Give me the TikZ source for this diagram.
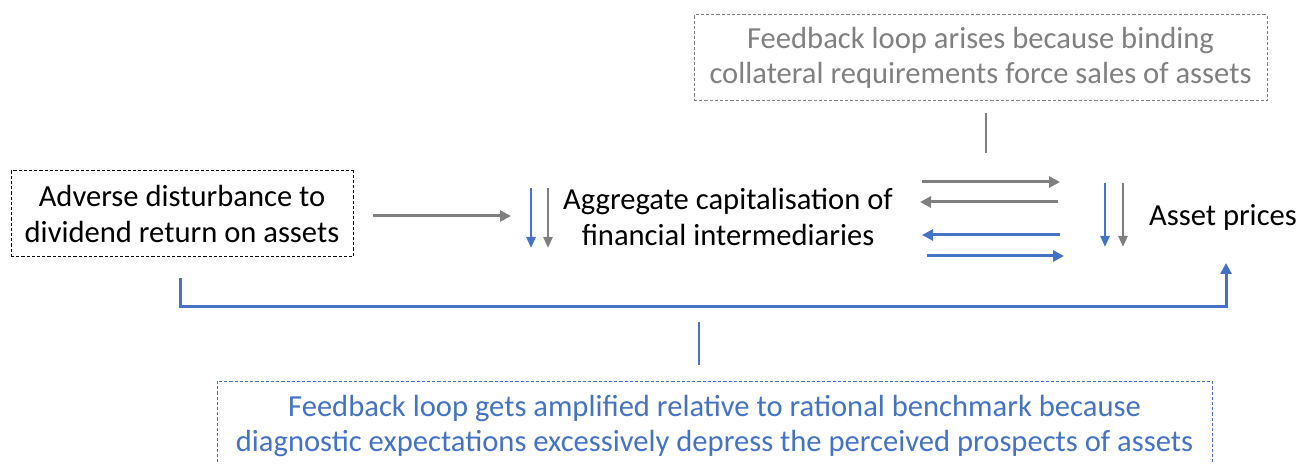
\documentclass[tikz,border=0pt]{standalone}
\usepackage{fontspec}
\setmainfont{Carlito}
\usetikzlibrary{arrows.meta}
\definecolor{cgray}{HTML}{7F7F7F}
\definecolor{cblue}{HTML}{4472C4}
\definecolor{tgray}{HTML}{808080}
\begin{document}
\begin{tikzpicture}[x=0.5pt,y=-0.5pt,
  lbl/.style={align=center,font=\fontsize{15.3}{17.6}\selectfont,inner sep=0pt},
  dbox/.style={draw,dash pattern=on 1.6pt off 1pt,line width=0.5pt},
  garr/.style={draw=cgray,line width=1.5pt,-{Triangle[length=5.5pt,width=5.5pt]}},
  barr/.style={draw=cblue,line width=1.5pt,-{Triangle[length=5.5pt,width=5.5pt]}},
  sarr/.style={line width=1.2pt,-{Triangle[length=5.5pt,width=4.5pt]}}]
\useasboundingbox (0,0) rectangle (1299,464);
\clip (0,0) rectangle (1299,464);
% boxes
\node[dbox,draw=black,minimum width=171pt,minimum height=43pt] (adv) at (182,214) {};
\node[lbl] (advt) at (182,214) {Adverse disturbance to\\dividend return on assets};
\node[dbox,draw=cgray,minimum width=286.5pt,minimum height=43pt] (top) at (980.5,58) {};
\node[lbl,text=tgray] (topt) at (980.5,58) {Feedback loop arises because binding\\collateral requirements force sales of assets};
\node[dbox,draw=cblue,minimum width=497.5pt,minimum height=45pt] (bot) at (714.5,426) {};
\node[lbl,text=cblue] (bott) at (714.5,426) {Feedback loop gets amplified relative to rational benchmark because\\diagnostic expectations excessively depress the perceived prospects of assets};
\node[lbl] (agg) at (728,217) {Aggregate capitalisation of\\financial intermediaries};
\node[lbl] (ap) at (1223,217) {Asset prices};
% coordinates
\coordinate (a1) at (373,216); \coordinate (a2) at (511,216);
\coordinate (b1) at (531,188); \coordinate (b2) at (531,248);
\coordinate (c1) at (548,188); \coordinate (c2) at (548,248);
\coordinate (r1) at (922,182); \coordinate (r2) at (1060,182);
\coordinate (r3) at (1058,202); \coordinate (r4) at (920,202);
\coordinate (r5) at (1060,235); \coordinate (r6) at (922,235);
\coordinate (r7) at (927,256); \coordinate (r8) at (1064,256);
\coordinate (d1) at (1105,183); \coordinate (d2) at (1105,247);
\coordinate (e1) at (1123,183); \coordinate (e2) at (1123,247);
\coordinate (t1) at (986,113); \coordinate (t2) at (986,153);
\coordinate (u1) at (699,322); \coordinate (u2) at (699,365);
\coordinate (k1) at (180,278); \coordinate (k2) at (1226,263);
% connectors
\draw[garr] (a1) -- (a2);
\draw[sarr,cblue] (b1) -- (b2);
\draw[sarr,cgray] (c1) -- (c2);
\draw[garr] (r1) -- (r2);
\draw[garr] (r3) -- (r4);
\draw[barr] (r5) -- (r6);
\draw[barr] (r7) -- (r8);
\draw[sarr,cblue] (d1) -- (d2);
\draw[sarr,cgray] (e1) -- (e2);
\draw[cgray,line width=1pt] (t1) -- (t2);
\draw[cblue,line width=1pt] (u1) -- (u2);
\draw[barr] (k1) |- (700,307) -| (k2);
\end{tikzpicture}
\end{document}
